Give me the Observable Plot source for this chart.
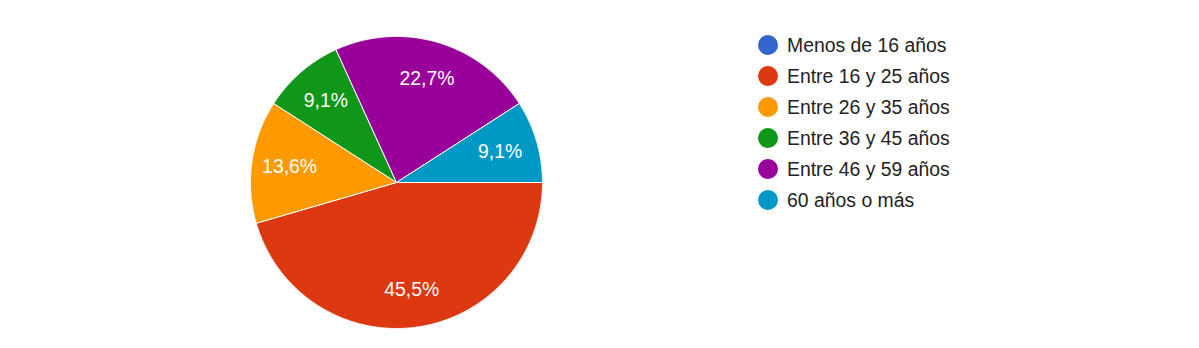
<!DOCTYPE html>
<html>
<head>
<meta charset="utf-8">
<script src="https://cdn.jsdelivr.net/npm/d3@7"></script>
<script src="https://cdn.jsdelivr.net/npm/@observablehq/plot@0.6"></script>
<style>
  html, body { margin: 0; padding: 0; background: #fff; }
  #wrap { position: relative; width: 1199px; height: 348px; overflow: hidden; }
  #legend { position: absolute; left: 758px; top: 29.5px; font-family: "Liberation Sans", Arial, sans-serif; font-size: 19.4px; color: #222; }
  .item { display: flex; align-items: center; height: 31px; }
  .sw { width: 20px; height: 20px; border-radius: 50%; margin-right: 9px; }
</style>
</head>
<body>
<div id="wrap"><div id="legend"></div></div>
<script>
const categories = ["Menos de 16 años", "Entre 16 y 25 años", "Entre 26 y 35 años", "Entre 36 y 45 años", "Entre 46 y 59 años", "60 años o más"];
const values = [0, 45.5, 13.6, 9.1, 22.7, 9.1];
const labels = ["0%", "45,5%", "13,6%", "9,1%", "22,7%", "9,1%"];
const colors = ["#3366cc", "#dc3912", "#ff9900", "#109618", "#990099", "#0099c6"];

// Pie layout: start at 3 o'clock, clockwise, in data order
const data = categories.map((c, i) => ({category: c, value: values[i], label: labels[i]}));
const pie = d3.pie().value(d => d.value).sort(null)
  .startAngle(Math.PI / 2).endAngle(Math.PI / 2 + 2 * Math.PI);
const arcs = pie(data).filter(a => a.value > 0);

// polygon points for each slice (unit circle, angle clockwise from north)
const pts = [];
for (const a of arcs) {
  const n = Math.max(2, Math.ceil((a.endAngle - a.startAngle) / 0.005));
  pts.push({category: a.data.category, x: 0, y: 0});
  for (let k = 0; k <= n; k++) {
    const t = a.startAngle + (a.endAngle - a.startAngle) * k / n;
    pts.push({category: a.data.category, x: Math.sin(t), y: Math.cos(t)});
  }
  pts.push({category: a.data.category, x: 0, y: 0});
}
const lab = arcs.map(a => {
  const t = (a.startAngle + a.endAngle) / 2;
  return {label: a.data.label, x: 0.74 * Math.sin(t), y: 0.74 * Math.cos(t)};
});

const chart = Plot.plot({
  width: 1199,
  height: 348,
  margin: 0,
  style: {background: "transparent"},
  x: {domain: [-1, 1], range: [250, 542], axis: null},
  y: {domain: [-1, 1], range: [328, 36], axis: null},
  color: {domain: categories, range: colors},
  marks: [
    Plot.line(pts, {x: "x", y: "y", z: "category", fill: "category", stroke: "white", strokeWidth: 1, strokeLinejoin: "round", curve: "linear"}),
    Plot.text(lab, {x: "x", y: "y", text: "label", fill: "white", fontSize: 19.4, fontFamily: "Liberation Sans, Arial, sans-serif"})
  ]
});
const wrap = document.getElementById("wrap");
wrap.insertBefore(chart, wrap.firstChild);

const legend = d3.select("#legend");
categories.forEach((c, i) => {
  const it = legend.append("div").attr("class", "item");
  it.append("div").attr("class", "sw").style("background", colors[i]);
  it.append("span").text(c);
});
</script>
</body>
</html>
